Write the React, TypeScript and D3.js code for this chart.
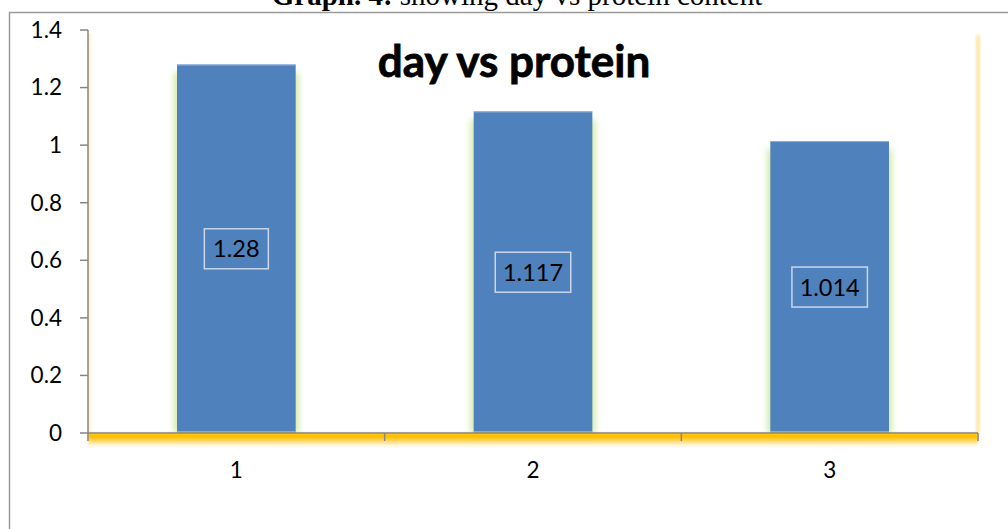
import React from "react";
import * as d3 from "d3";

const categories = ["1", "2", "3"];
const proteinValues = [1.28, 1.117, 1.014];
const valueLabels = ["1.28", "1.117", "1.014"];
const yTicks = [0, 0.2, 0.4, 0.6, 0.8, 1, 1.2, 1.4];
const yTickLabels = ["0", "0.2", "0.4", "0.6", "0.8", "1", "1.2", "1.4"];
const pageTitle = "showing day vs protein content";
const pageTitleBold = "Graph. 4:";
const chartTitle = "day vs protein";

const W = 1008;
const H = 529;
const plotLeft = 88;
const plotRight = 978;
const plotTop = 30;
const plotBottom = 433;

export default function App() {
  const x = d3
    .scaleBand<string>()
    .domain(categories)
    .range([plotLeft, plotRight])
    .paddingInner(0.6)
    .paddingOuter(0.3);
  const y = d3.scaleLinear().domain([0, 1.4]).range([plotBottom, plotTop]);
  const step = (plotRight - plotLeft) / categories.length;
  const boundaries = d3.range(categories.length + 1).map((i) => plotLeft + i * step);
  const font = "Lato, 'Open Sans', sans-serif";

  return (
    <svg
      width={W}
      height={H}
      style={{ position: "fixed", left: 0, top: 0, background: "#fff" }}
    >
      <defs>
        <linearGradient id="orangeGlow" x1="0" y1="0" x2="0" y2="1">
          <stop offset="0" stopColor="#FFC000" />
          <stop offset="0.3" stopColor="#FFC000" />
          <stop offset="0.65" stopColor="#FFE08A" stopOpacity="0.7" />
          <stop offset="1" stopColor="#FFFFFF" stopOpacity="0" />
        </linearGradient>
        <linearGradient id="leftGlow" x1="0" y1="0" x2="1" y2="0">
          <stop offset="0" stopColor="#FFE7A8" stopOpacity="0.9" />
          <stop offset="1" stopColor="#FFFFFF" stopOpacity="0" />
        </linearGradient>
        <filter id="greenGlow" x="-20%" y="-10%" width="140%" height="120%">
          <feGaussianBlur stdDeviation="3" />
        </filter>
        <filter id="blur2" x="-50%" y="-5%" width="200%" height="110%">
          <feGaussianBlur stdDeviation="1.5" />
        </filter>
        <filter id="blurGlow" x="-5%" y="-50%" width="110%" height="200%">
          <feGaussianBlur stdDeviation="1.2" />
        </filter>
      </defs>

      {/* page caption (cut off at top, as in the source) */}
      <text
        x={517}
        y={5}
        textAnchor="middle"
        fontFamily="'Liberation Serif', 'Times New Roman', serif"
        fontSize={29}
        fill="#000"
      >
        <tspan fontWeight="bold">{pageTitleBold}</tspan>
        <tspan> {pageTitle}</tspan>
      </text>

      {/* outer chart border */}
      <rect x={9.5} y={12.5} width={1010} height={540} fill="none" stroke="#9a9a9a" strokeWidth={1.5} />

      {/* right side yellow line */}
      <rect x={976.5} y={35} width={3} height={plotBottom - 35} fill="#FFE08A" filter="url(#blur2)" />
      {/* left faint glow */}
      <rect x={plotLeft} y={plotTop + 4} width={6} height={plotBottom - plotTop - 4} fill="url(#leftGlow)" />

      {/* bars */}
      {categories.map((c, i) => {
        const bx = x(c)!;
        const by = y(proteinValues[i]);
        const bw = x.bandwidth();
        const bh = plotBottom - by;
        return (
          <g key={c}>
            <rect x={bx - 3} y={by + 8} width={bw + 6} height={bh - 8} fill="#cfeaa6" filter="url(#greenGlow)" />
            <rect x={bx} y={by} width={bw} height={bh} fill="#4F81BD" />
            <line x1={bx} x2={bx + bw} y1={by + 0.5} y2={by + 0.5} stroke="#8db0dd" strokeWidth={1} />
            <line x1={bx} x2={bx + bw} y1={plotBottom - 1} y2={plotBottom - 1} stroke="#9bd05a" strokeWidth={1.5} />
          </g>
        );
      })}

      {/* orange glow under axis */}
      <rect x={plotLeft} y={plotBottom} width={plotRight - plotLeft} height={16} fill="url(#orangeGlow)" filter="url(#blurGlow)" />

      {/* axes */}
      <line x1={plotLeft} x2={plotLeft} y1={plotTop} y2={plotBottom} stroke="#868686" strokeWidth={1.5} />
      <line x1={plotLeft} x2={plotRight} y1={plotBottom} y2={plotBottom} stroke="#868686" strokeWidth={1.5} />
      {yTicks.map((t, i) => (
        <g key={"y" + i}>
          <line x1={plotLeft - 8} x2={plotLeft} y1={y(t)} y2={y(t)} stroke="#868686" strokeWidth={1.5} />
          <text
            x={62}
            y={y(t)}
            dy="0.35em"
            textAnchor="end"
            fontFamily={font}
            fontSize={22.5}
            fill="#000"
          >
            {yTickLabels[i]}
          </text>
        </g>
      ))}
      {boundaries.map((b, i) => (
        <line key={"xt" + i} x1={b} x2={b} y1={plotBottom} y2={plotBottom + 8} stroke="#868686" strokeWidth={1.5} />
      ))}
      {categories.map((c) => (
        <text
          key={"xl" + c}
          x={x(c)! + x.bandwidth() / 2}
          y={470}
          dy="0.35em"
          textAnchor="middle"
          fontFamily={font}
          fontSize={22.5}
          fill="#000"
        >
          {c}
        </text>
      ))}

      {/* data labels */}
      {categories.map((c, i) => {
        const cx = x(c)! + x.bandwidth() / 2;
        const cy = (y(proteinValues[i]) + plotBottom) / 2;
        const label = valueLabels[i];
        const tw = label.length * 11.5 + 2;
        const bw = tw + 16;
        const bh = 40;
        return (
          <g key={"dl" + c}>
            <rect
              x={cx - bw / 2}
              y={cy - bh / 2}
              width={bw}
              height={bh}
              fill="none"
              stroke="#c9d6ec"
              strokeWidth={1.5}
            />
            <text
              x={cx}
              y={cy}
              dy="0.36em"
              textAnchor="middle"
              fontFamily={font}
              fontSize={23.5}
              fill="#000"
            >
              {label}
            </text>
          </g>
        );
      })}

      {/* chart title */}
      <text
        x={514}
        y={77}
        textAnchor="middle"
        fontFamily={font}
        fontWeight="bold"
        fontSize={44}
        fill="#000"
        stroke="#000"
        strokeWidth={0.8}
      >
        {chartTitle}
      </text>
    </svg>
  );
}
